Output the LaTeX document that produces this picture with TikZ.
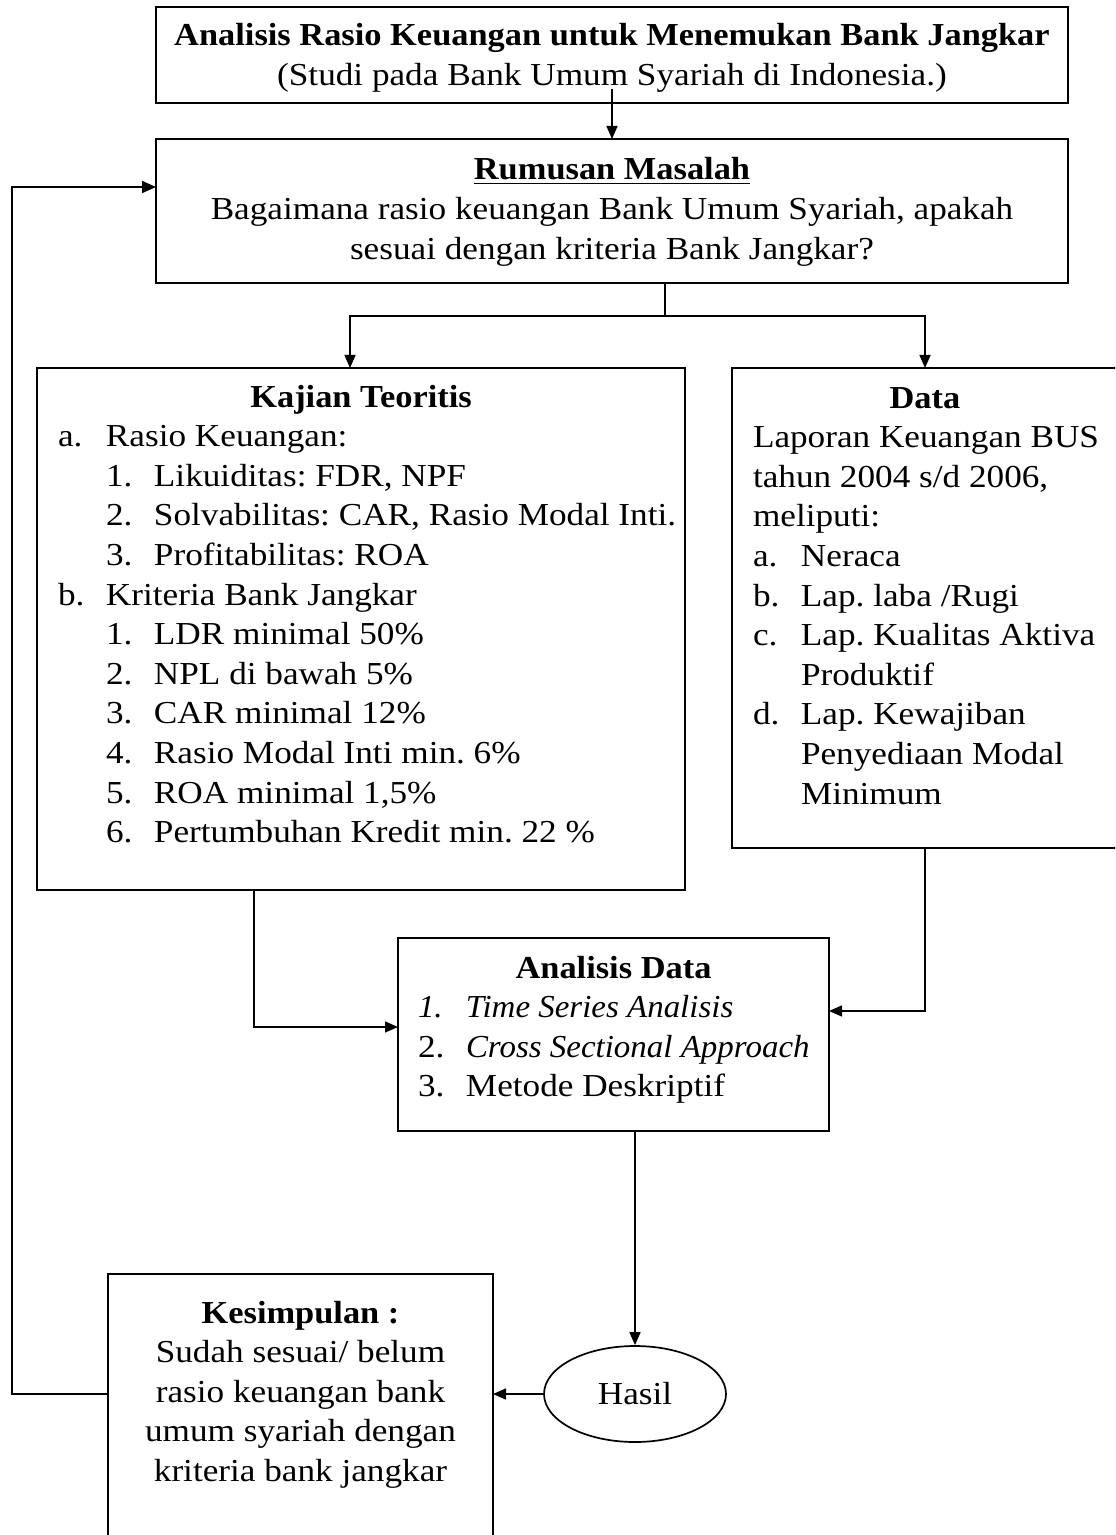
\documentclass[tikz,border=0pt]{standalone}
\usepackage{fontspec}
\setmainfont{Liberation Serif}[FakeStretch=1.1,
    BoldFeatures={FakeStretch=1.075}, ItalicFeatures={FakeStretch=1.03}]
\usetikzlibrary{arrows.meta,shapes.geometric}
\newlength\px
\setlength\px{0.5pt}
\newcommand{\itm}[2]{\makebox[48\px][l]{#1}#2}
\frenchspacing

\begin{document}
\begin{tikzpicture}
        [x=0.5pt, y=-0.5pt,
        font=\fontsize{16}{19.8}\selectfont,
        box/.style={draw, line width=0.85pt, inner sep=0pt, outer sep=0pt, anchor=north west},
        line/.style={line width=0.7pt},
        arr/.style={line width=0.7pt, -{Triangle[length=6.5pt, width=5.5pt]}},
        back/.style={line width=0.85pt, -{Triangle[length=7pt, width=6pt]}}]
    \clip (0,0) rectangle (1115,1535);
    \node[box] (judul) at (156,7) {\parbox[c][96\px][t]{912\px}{\centering
        \rule{0pt}{39\px}\textbf{Analisis Rasio Keuangan untuk Menemukan Bank Jangkar}\\
        (Studi pada Bank Umum Syariah di Indonesia.)}};
    \node[box] (rumusan) at (156,139) {\parbox[c][144\px][t]{912\px}{\centering
        \rule{0pt}{41\px}\underline{\textbf{Rumusan Masalah}}\\
        Bagaimana rasio keuangan Bank Umum Syariah, apakah\\
        sesuai dengan kriteria Bank Jangkar?}};
    \node[box] (kajian) at (37,368) {\parbox[c][522\px][t]{648\px}{\centering
        \rule{0pt}{39\px}\textbf{Kajian Teoritis}\par
        \raggedright\leftskip=21\px
        \itm{a.}{Rasio Keuangan:}\\
        \hspace*{48\px}\itm{1.}{Likuiditas: FDR, NPF}\\
        \hspace*{48\px}\itm{2.}{Solvabilitas: CAR, Rasio Modal Inti.}\\
        \hspace*{48\px}\itm{3.}{Profitabilitas: ROA}\\
        \itm{b.}{Kriteria Bank Jangkar}\\
        \hspace*{48\px}\itm{1.}{LDR minimal 50\%}\\
        \hspace*{48\px}\itm{2.}{NPL di bawah 5\%}\\
        \hspace*{48\px}\itm{3.}{CAR minimal 12\%}\\
        \hspace*{48\px}\itm{4.}{Rasio Modal Inti min. 6\%}\\
        \hspace*{48\px}\itm{5.}{ROA minimal 1,5\%}\\
        \hspace*{48\px}\itm{6.}{Pertumbuhan Kredit min. 22 \%}}};
    \node[box] (data) at (732,368) {\parbox[c][480\px][t]{386\px}{\centering
        \rule{0pt}{40\px}\textbf{Data}\par
        \raggedright\leftskip=21\px
        Laporan Keuangan BUS\\
        tahun 2004 s/d 2006,\\
        meliputi:\\
        \itm{a.}{Neraca}\\
        \itm{b.}{Lap. laba /Rugi}\\
        \itm{c.}{Lap. Kualitas Aktiva}\\
        \hspace*{48\px}Produktif\\
        \itm{d.}{Lap. Kewajiban}\\
        \hspace*{48\px}Penyediaan Modal\\
        \hspace*{48\px}Minimum}};
    \node[box] (analisis) at (398,938) {\parbox[c][193\px][t]{431\px}{\centering
        \rule{0pt}{40\px}\textbf{Analisis Data}\par
        \raggedright\leftskip=20\px
        \itm{\textit{1.}}{\textit{Time Series Analisis}}\\
        \itm{2.}{\mbox{\textit{Cross Sectional Approach}}}\\
        \itm{3.}{Metode Deskriptif}}};
    \node[box] (kesimpulan) at (108,1274) {\parbox[c][296\px][t]{385\px}{\centering
        \rule{0pt}{49\px}\textbf{Kesimpulan :}\\
        Sudah sesuai/ belum\\
        rasio keuangan bank\\
        umum syariah dengan\\
        kriteria bank jangkar}};
    \node[draw, ellipse, line width=0.85pt, inner sep=0pt,
        minimum width=182\px, minimum height=96\px] (hasil) at (635,1394) {Hasil};
    \coordinate (cabang) at (665,316);
    \coordinate (balik) at (12,187);
    \draw[arr] ([yshift=7pt]judul.south) -- (rumusan.north);
    \draw[line] (rumusan.south -| cabang) -- (cabang);
    \draw[arr] (cabang) -| ([xshift=-5.5pt]kajian.north);
    \draw[arr] (cabang) -| (data.north);
    \draw[arr] ([xshift=-53.5pt]kajian.south) |- ([yshift=3.75pt]analisis.west);
    \draw[arr] (data.south) |- ([yshift=11.75pt]analisis.east);
    \draw[arr] (analisis.south -| hasil.north) -- (hasil.north);
    \draw[arr] (hasil.west) -- (hasil.west -| kesimpulan.east);
    \draw[back] (hasil.west -| kesimpulan.west) -| (balik) -- (balik -| rumusan.west);
\end{tikzpicture}
\end{document}
